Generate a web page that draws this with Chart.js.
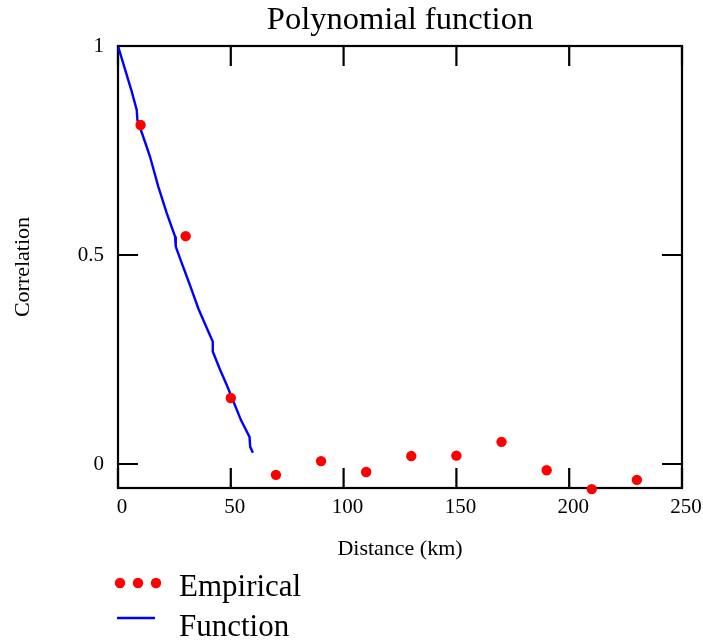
<!DOCTYPE html>
<html lang="en">
<head>
    <meta charset="UTF-8">
    <title>Polynomial function</title>
    <style>
        html, body { margin: 0; padding: 0; background: #ffffff; }
        #wrap { width: 703px; height: 641px; }
    </style>
</head>
<body>
    <div id="wrap">
        <canvas id="polyChart" width="703" height="641"></canvas>
    </div>

    <script src="https://cdn.jsdelivr.net/npm/chart.js"></script>
    <script>

        // empirical correlation
        const empiricalDistance = [10, 30, 50, 70, 90, 110, 130, 150, 170, 190, 210, 230];
        const empiricalCorrelation = [0.811, 0.545, 0.158, -0.026, 0.007, -0.019, 0.019, 0.02, 0.053, -0.015, -0.06, -0.038];

        // fitted polynomial
        const functionDistance = [0, 6.1, 8.3, 8.6, 12.7, 14.2, 17.9, 21.6, 25.3, 25.6, 28.3, 29.7, 32.7, 35.6, 39.4, 42.0, 42.0, 45.3, 48.2, 50.9, 54.5, 58.3, 58.6, 59.8];
        const functionCorrelation = [1.0, 0.891, 0.847, 0.823, 0.759, 0.735, 0.663, 0.600, 0.544, 0.520, 0.480, 0.460, 0.416, 0.372, 0.325, 0.293, 0.269, 0.225, 0.189, 0.153, 0.105, 0.065, 0.041, 0.027];

        const xTicks = [0, 50, 100, 150, 200, 250];
        const yTicks = [0, 0.5, 1];

        const serif = "'Liberation Serif', 'Times New Roman', serif";

        function toPoints(xs, ys) {
            return xs.map((x, i) => ({ x: x, y: ys[i] }));
        }

        // frame with inward ticks on all four sides, plus the legend
        const framePlugin = {
            id: 'frame',
            beforeDatasetsDraw(chart) {
                const { ctx, chartArea: a, scales } = chart;
                const len = 20;
                ctx.save();
                ctx.strokeStyle = '#000000';
                ctx.lineWidth = 2.2;
                ctx.strokeRect(a.left, a.top, a.right - a.left, a.bottom - a.top);
                ctx.beginPath();
                xTicks.forEach(v => {
                    const px = scales.x.getPixelForValue(v);
                    ctx.moveTo(px, a.bottom); ctx.lineTo(px, a.bottom - len);
                    ctx.moveTo(px, a.top); ctx.lineTo(px, a.top + len);
                });
                yTicks.forEach(v => {
                    const py = scales.y.getPixelForValue(v);
                    ctx.moveTo(a.left, py); ctx.lineTo(a.left + len, py);
                    ctx.moveTo(a.right, py); ctx.lineTo(a.right - len, py);
                });
                ctx.stroke();
                ctx.restore();
            },
            afterDraw(chart) {
                const ctx = chart.ctx;
                ctx.save();
                ctx.fillStyle = '#ff0000';
                [120, 138, 156].forEach(x => {
                    ctx.beginPath();
                    ctx.arc(x, 583, 5.2, 0, Math.PI * 2);
                    ctx.fill();
                });
                ctx.strokeStyle = '#0000ff';
                ctx.lineWidth = 2.4;
                ctx.beginPath();
                ctx.moveTo(117, 618);
                ctx.lineTo(155, 618);
                ctx.stroke();
                ctx.fillStyle = '#000000';
                ctx.font = '31px ' + serif;
                ctx.textBaseline = 'alphabetic';
                ctx.fillText('Empirical', 179, 596);
                ctx.fillText('Function', 179, 636);
                ctx.restore();
            }
        };

        const config = {
            type: 'scatter',
            data: {
                datasets: [
                    {
                        label: 'Empirical',
                        data: toPoints(empiricalDistance, empiricalCorrelation),
                        backgroundColor: '#ff0000',
                        borderWidth: 0,
                        pointRadius: 5.2,
                        pointHoverRadius: 5.2,
                        clip: false
                    },
                    {
                        label: 'Function',
                        data: toPoints(functionDistance, functionCorrelation),
                        showLine: true,
                        borderColor: '#0000ff',
                        borderWidth: 2.4,
                        pointRadius: 0,
                        tension: 0
                    }
                ]
            },
            options: {
                responsive: false,
                animation: false,
                layout: {
                    padding: { left: 0, right: 21, top: 0, bottom: 78 }
                },
                plugins: {
                    legend: { display: false },
                    tooltip: { enabled: false },
                    title: {
                        display: true,
                        fullSize: false,
                        text: 'Polynomial function',
                        color: '#000000',
                        font: { family: serif, size: 32.5, weight: 'normal', lineHeight: 1 },
                        padding: { top: 4, bottom: 9.5 }
                    }
                },
                scales: {
                    x: {
                        type: 'linear',
                        min: 0,
                        max: 250,
                        afterFit: scale => {
                            scale.height = 75;
                            scale.paddingLeft = 0;
                            scale.paddingRight = 0;
                        },
                        afterBuildTicks: scale => { scale.ticks = xTicks.map(v => ({ value: v })); },
                        grid: { display: false, drawTicks: false },
                        border: { display: false },
                        ticks: {
                            color: '#000000',
                            padding: 7,
                            labelOffset: 4,
                            maxRotation: 0,
                            callback: v => String(v),
                            font: { family: serif, size: 21 }
                        },
                        title: {
                            display: true,
                            text: 'Distance (km)',
                            color: '#000000',
                            font: { family: serif, size: 22 },
                            padding: { top: 0, bottom: 1 }
                        }
                    },
                    y: {
                        type: 'linear',
                        min: -0.0574,
                        max: 1,
                        afterFit: scale => { scale.width = 118; },
                        afterBuildTicks: scale => { scale.ticks = yTicks.map(v => ({ value: v })); },
                        grid: { display: false, drawTicks: false },
                        border: { display: false },
                        ticks: {
                            color: '#000000',
                            padding: 14,
                            callback: v => String(v),
                            font: { family: serif, size: 21 }
                        },
                        title: {
                            display: true,
                            text: 'Correlation',
                            color: '#000000',
                            font: { family: serif, size: 22 },
                            padding: { top: 10, bottom: 0 }
                        }
                    }
                }
            },
            plugins: [framePlugin]
        };

        const polyChart = new Chart(
            document.getElementById('polyChart'),
            config
        );
    </script>
</body>
</html>
